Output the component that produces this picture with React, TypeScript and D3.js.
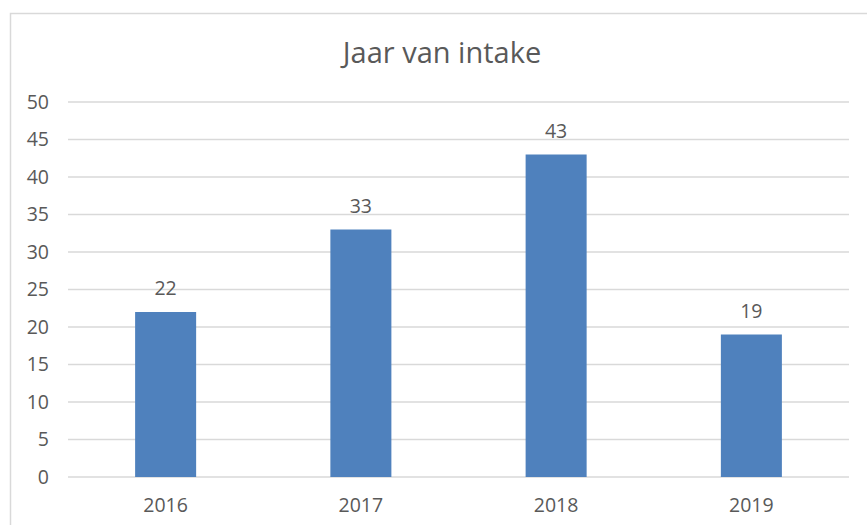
import React from "react";
import * as d3 from "d3";

const categories = ["2016", "2017", "2018", "2019"];
const values = [22, 33, 43, 19];
const yTicks = [0, 5, 10, 15, 20, 25, 30, 35, 40, 45, 50];
const title = "Jaar van intake";

const W = 867;
const H = 525;
const FONT = "'Open Sans', 'Noto Sans', sans-serif";
const TEXT = "#595959";
const LBL = 19.5;

export default function App() {
  const x = d3
    .scaleBand<string>()
    .domain(categories)
    .range([68, 849])
    .paddingInner(0.6875)
    .paddingOuter(0.34375);
  const y = d3.scaleLinear().domain([0, 50]).range([477, 102]);

  return (
    <svg
      width={W}
      height={H}
      style={{ position: "fixed", left: 0, top: 0, background: "#fff" }}
    >
      <rect x={0} y={0} width={W} height={H} fill="#fff" />
      <rect
        x={10.5}
        y={13.5}
        width={W + 20}
        height={H + 20}
        fill="none"
        stroke="#d9d9d9"
        strokeWidth={1.5}
      />
      <text
        x={442}
        y={63}
        textAnchor="middle"
        fontFamily={FONT}
        fontSize={29}
        fill={TEXT}
      >
        {title}
      </text>
      {yTicks.map((t) => (
        <g key={t}>
          <line
            x1={68}
            x2={849}
            y1={y(t)}
            y2={y(t)}
            stroke="#d9d9d9"
            strokeWidth={1.3}
          />
          <text
            x={49}
            y={y(t)}
            dy="0.35em"
            textAnchor="end"
            fontFamily={FONT}
            fontSize={LBL}
            fill={TEXT}
          >
            {t}
          </text>
        </g>
      ))}
      {categories.map((c, i) => (
        <g key={c}>
          <rect
            x={x(c)}
            y={y(values[i])}
            width={x.bandwidth()}
            height={y(0) - y(values[i])}
            fill="#4f81bd"
          />
          <text
            x={(x(c) as number) + x.bandwidth() / 2}
            y={y(values[i]) - 17}
            textAnchor="middle"
            fontFamily={FONT}
            fontSize={LBL}
            fill={TEXT}
          >
            {values[i]}
          </text>
          <text
            x={(x(c) as number) + x.bandwidth() / 2}
            y={512}
            textAnchor="middle"
            fontFamily={FONT}
            fontSize={LBL}
            fill={TEXT}
          >
            {c}
          </text>
        </g>
      ))}
    </svg>
  );
}
